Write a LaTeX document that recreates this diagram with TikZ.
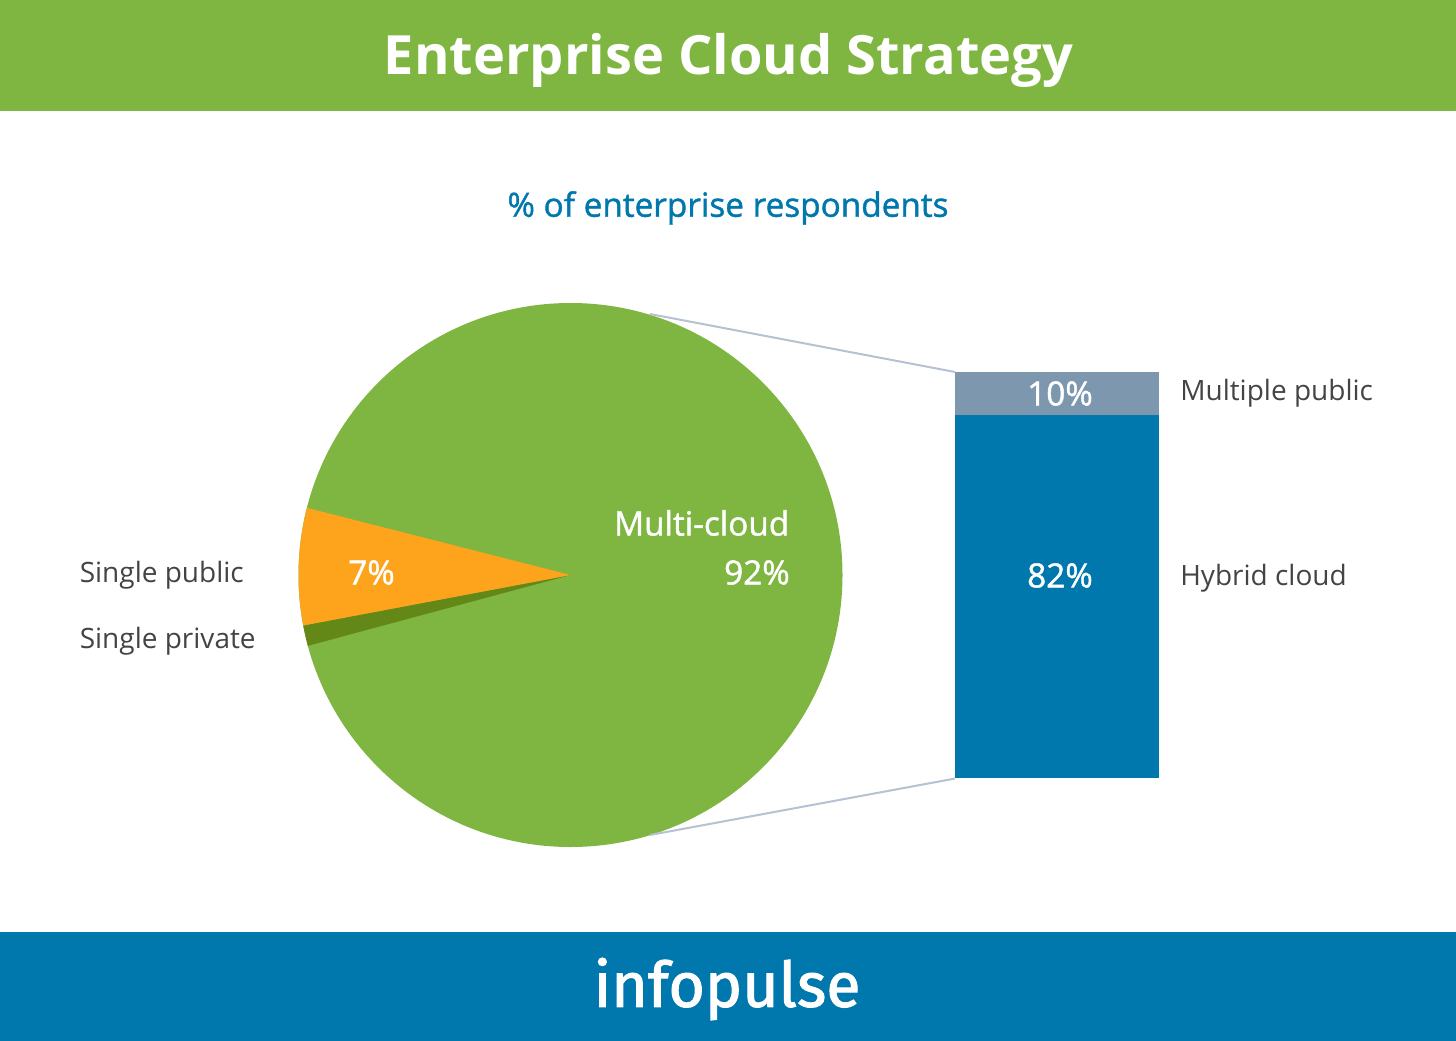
\documentclass[tikz,border=0pt]{standalone}
\usepackage{fontspec}
\setmainfont{Open Sans}
\newfontfamily\semifont[FakeBold=1.3]{Open Sans}
\newfontfamily\logofont[FakeBold=1.6]{Fira Sans}
\definecolor{cloudgreen}{RGB}{127,181,65}
\definecolor{darkgreen}{RGB}{100,136,24}
\definecolor{pulseblue}{RGB}{0,119,173}
\definecolor{slateblue}{RGB}{125,152,174}
\definecolor{pieorange}{RGB}{253,164,28}
\definecolor{labelgrey}{RGB}{68,68,68}
\definecolor{linegrey}{RGB}{182,194,210}
\tikzset{
  band/.style={anchor=north west,inner sep=0pt,minimum width=1092pt},
  barpart/.style={anchor=north west,inner sep=0pt,minimum width=153pt},
  sidelabel/.style={anchor=west,inner sep=0pt,text=labelgrey,font=\fontsize{21}{25}\selectfont},
  valuelabel/.style={inner sep=0pt,text=white,font=\fontsize{25}{29}\selectfont\semifont}
}
\begin{document}
\begin{tikzpicture}[x=0.75pt,y=0.75pt,yscale=-1,xscale=1]
\useasboundingbox (0,0) rectangle (1456,1041);

% Bands
\node (topband) [band,fill=cloudgreen,minimum height=83.25pt] at (0,0) {};
\node (bottomband) [band,fill=pulseblue,minimum height=81.75pt] at (0,932) {};
% Titles
\node (title) [inner sep=0pt,text=white,font=\fontsize{40.6}{48}\selectfont\bfseries] at (728.5,60) {Enterprise Cloud Strategy};
\node (subtitle) [inner sep=0pt,text=pulseblue,font=\fontsize{25}{29}\selectfont\semifont] at (728,208) {\% of enterprise respondents};
\node (logo) [inner sep=0pt,text=white,font=\fontsize{47}{54}\selectfont\logofont] at (727,989) {infopulse};
% Pie
\coordinate (piecentre) at (570.5,575);
\coordinate (pietop) at (650,314);
\coordinate (piebottom) at (650,835);
\fill [cloudgreen] (piecentre) circle (272);
\fill [darkgreen] (piecentre) -- ++(169.3:272) arc (169.3:164.9:272) -- cycle;
\fill [pieorange] (piecentre) -- ++(194.3:272) arc (194.3:169.3:272) -- cycle;
% Bar
\node (multiplebar) [barpart,fill=slateblue,minimum height=32.25pt] at (955,372) {};
\node (hybridbar) [barpart,fill=pulseblue,minimum height=272.25pt] at (955,415) {};
% Connection
\draw [linegrey,line width=1.5pt] (pietop) -- (multiplebar.north west);
\draw [linegrey,line width=1.5pt] (piebottom) -- (hybridbar.south west);
% Text Node
\node (singlepublic) [sidelabel] at (79.5,575) {Single public};
\node (singleprivate) [sidelabel] at (79.5,641) {Single private};
\node (multiplepublic) [sidelabel] at (1180,393) {Multiple public};
\node (hybridcloud) [sidelabel] at (1180,578) {Hybrid cloud};
\node (sevenval) [valuelabel] at (371.5,572.5) {7\%};
\node (multicloud) [valuelabel,anchor=east] at (789.5,523) {Multi-cloud};
\node (multival) [valuelabel,anchor=east] at (790,572.5) {92\%};
\node (multipleval) [valuelabel] at (1060,393.5) {10\%};
\node (hybridval) [valuelabel] at (1060,575.5) {82\%};
\end{tikzpicture}
\end{document}
